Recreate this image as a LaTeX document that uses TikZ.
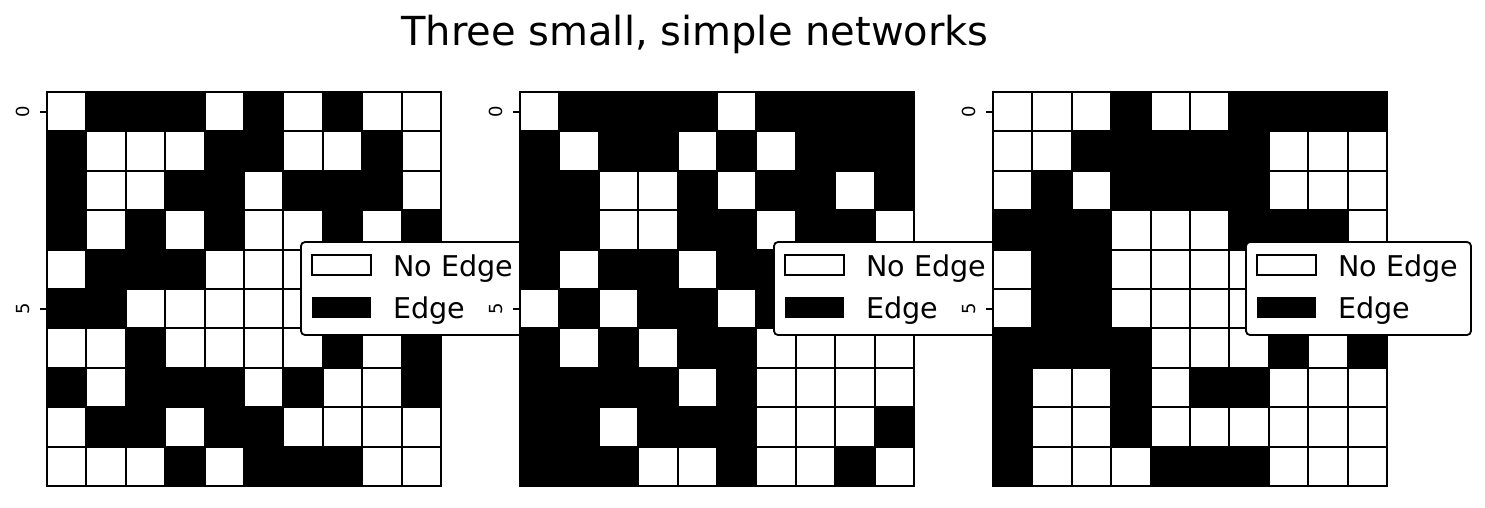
\documentclass[tikz,border=0pt]{standalone}
\usepackage{fontspec}
\setmainfont{DejaVu Sans}
\definecolor{c0}{gray}{1}
\definecolor{c1}{gray}{0}
\tikzset{
  cell/.style={draw=black, line width=2pt},
  spine/.style={draw=black, line width=1.8pt},
  legbox/.style={draw=black, fill=white, line width=1.8pt, rounded corners=4pt},
  legtext/.style={font=\fontsize{28.6}{34}\selectfont, anchor=base west, inner sep=0pt},
  ticklab/.style={font=\fontsize{18}{22}\selectfont, rotate=90, inner sep=0pt},
  titletext/.style={font=\fontsize{40}{48}\selectfont, anchor=base, inner sep=0pt},
}
\newcommand\drawgrid[3]{%
  \foreach \row [count=\r from 0] in {#3} {
    \foreach \v [count=\c from 0] in \row {
      \filldraw[cell, fill=c\v] (#1+\c*39.4, 92+\r*39.4) rectangle ++(39.4,39.4);
    }
  }
  \draw[spine] (#1,92) rectangle (#1+394,486);
  \draw[spine] (#1-7,111.7) -- (#1,111.7);
  \draw[spine] (#1-7,308.7) -- (#1,308.7);
  \node[ticklab] (#2t0) at (#1-24,111.7) {0};
  \node[ticklab] (#2t5) at (#1-24,308.7) {5};
}
\newcommand\drawlegend[2]{%
  \draw[legbox] (#1,242) rectangle (#1+225,335);
  \draw[line width=1.8pt, fill=white] (#1+11,255) rectangle (#1+70,275);
  \fill[black] (#1+11,297) rectangle (#1+70,318);
  \node[legtext] (#2a) at (#1+92,276) {No Edge};
  \node[legtext] (#2b) at (#1+92,318) {Edge};
}
\begin{document}
\begin{tikzpicture}[x=1pt, y=-1pt]
  \useasboundingbox[fill=white] (0,0) rectangle (1485,507);
  \node[titletext] (title) at (695,45) {Three small, simple networks};
  \drawgrid{47}{ga}{
    {0,1,1,1,0,1,0,1,0,0},
    {1,0,0,0,1,1,0,0,1,0},
    {1,0,0,1,1,0,1,1,1,0},
    {1,0,1,0,1,0,0,1,0,1},
    {0,1,1,1,0,0,0,1,1,0},
    {1,1,0,0,0,0,0,0,1,1},
    {0,0,1,0,0,0,0,1,0,1},
    {1,0,1,1,1,0,1,0,0,1},
    {0,1,1,0,1,1,0,0,0,0},
    {0,0,0,1,0,1,1,1,0,0}}
  \drawlegend{301}{la}
  \drawgrid{520}{gb}{
    {0,1,1,1,1,0,1,1,1,1},
    {1,0,1,1,0,1,0,1,1,1},
    {1,1,0,0,1,0,1,1,0,1},
    {1,1,0,0,1,1,0,1,1,0},
    {1,0,1,1,0,1,1,0,1,0},
    {0,1,0,1,1,0,1,1,1,1},
    {1,0,1,0,1,1,0,0,0,0},
    {1,1,1,1,0,1,0,0,0,0},
    {1,1,0,1,1,1,0,0,0,1},
    {1,1,1,0,0,1,0,0,1,0}}
  \drawlegend{774}{lb}
  \drawgrid{993}{gc}{
    {0,0,0,1,0,0,1,1,1,1},
    {0,0,1,1,1,1,1,0,0,0},
    {0,1,0,1,1,1,1,0,0,0},
    {1,1,1,0,0,0,1,1,1,0},
    {0,1,1,0,0,0,0,0,0,1},
    {0,1,1,0,0,0,0,1,0,1},
    {1,1,1,1,0,0,0,1,0,1},
    {1,0,0,1,0,1,1,0,0,0},
    {1,0,0,1,0,0,0,0,0,0},
    {1,0,0,0,1,1,1,0,0,0}}
  \drawlegend{1246}{lc}
\end{tikzpicture}
\end{document}
